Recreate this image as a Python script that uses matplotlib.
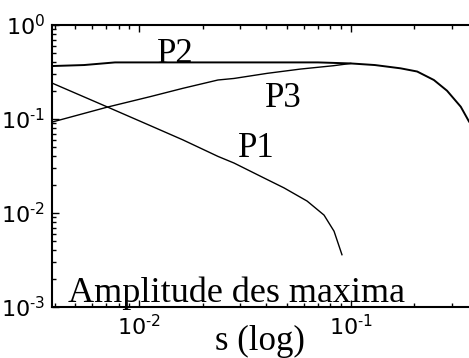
import matplotlib
matplotlib.use("Agg")
import matplotlib.pyplot as plt
from matplotlib.ticker import LogLocator, NullFormatter, FuncFormatter
import math

plt.rcParams['mathtext.fontset'] = 'custom'
plt.rcParams['mathtext.rm'] = 'Liberation Sans'
plt.rcParams['mathtext.it'] = 'Liberation Sans'
plt.rcParams['mathtext.bf'] = 'Liberation Sans'

# courbes
s_p1 = [0.0039, 0.0071, 0.0113, 0.0161, 0.0236, 0.0281, 0.0389, 0.0484, 0.0622, 0.0748, 0.0834, 0.0909]
a_p1 = [0.24, 0.134, 0.085, 0.060, 0.040, 0.034, 0.0236, 0.0185, 0.0134, 0.0095, 0.0064, 0.0036]

s_p2 = [0.0039, 0.0055, 0.0077, 0.012, 0.02, 0.04, 0.07, 0.1, 0.13, 0.172, 0.206, 0.247, 0.285, 0.331, 0.362]
a_p2 = [0.366, 0.375, 0.40, 0.40, 0.40, 0.40, 0.40, 0.39, 0.375, 0.346, 0.32, 0.26, 0.20, 0.135, 0.094]

s_p3 = [0.0039, 0.0071, 0.0113, 0.0161, 0.0236, 0.0281, 0.0403, 0.058, 0.083, 0.1]
a_p3 = [0.093, 0.134, 0.173, 0.212, 0.26, 0.27, 0.306, 0.34, 0.369, 0.39]


def puissance(v, pos):
    e = int(round(math.log10(v)))
    if e == 0:
        return r'$\mathregular{10^{0}}$'
    return r'$\mathregular{10^{\text{-}%d}}$' % (-e)


fig = plt.figure(figsize=(4.69, 3.58), dpi=100)
ax = fig.add_axes([52 / 469, 1 - 307 / 358, 1 - 52 / 469, (307 - 25) / 358])

ax.plot(s_p1, a_p1, color='black', lw=1.0)
ax.plot(s_p3, a_p3, color='black', lw=1.0)
ax.plot(s_p2, a_p2, color='black', lw=1.4)

ax.set_xscale('log')
ax.set_yscale('log')
ax.set_xlim(0.00388, 0.362)
ax.set_ylim(1e-3, 1)

ax.xaxis.set_minor_locator(LogLocator(base=10, subs=range(2, 10)))
ax.yaxis.set_minor_locator(LogLocator(base=10, subs=range(2, 10)))
ax.xaxis.set_minor_formatter(NullFormatter())
ax.yaxis.set_minor_formatter(NullFormatter())
ax.xaxis.set_major_formatter(FuncFormatter(puissance))
ax.yaxis.set_major_formatter(FuncFormatter(puissance))
ax.tick_params(which='both', direction='in', top=True, right=False, width=1.0,
               labelsize=16, pad=5)
ax.tick_params(which='major', length=5)
ax.tick_params(which='minor', length=3)

for side in ['left', 'bottom', 'top']:
    ax.spines[side].set_linewidth(1.5)
ax.spines['right'].set_visible(False)

serif = 'Liberation Serif'
ax.text(0.0148, 0.49, 'P2', family=serif, fontsize=25, va='center', ha='center')
ax.text(0.048, 0.165, 'P3', family=serif, fontsize=25, va='center', ha='center')
ax.text(0.036, 0.048, 'P1', family=serif, fontsize=25, va='center', ha='center')
ax.text(0.0046, 0.00112, 'Amplitude des maxima', family=serif, fontsize=26,
        va='baseline', ha='left')

fig.text(260 / 469, 8 / 358, 's (log)', family=serif, fontsize=25,
         ha='center', va='baseline')

fig.savefig('out.png', dpi=100)
